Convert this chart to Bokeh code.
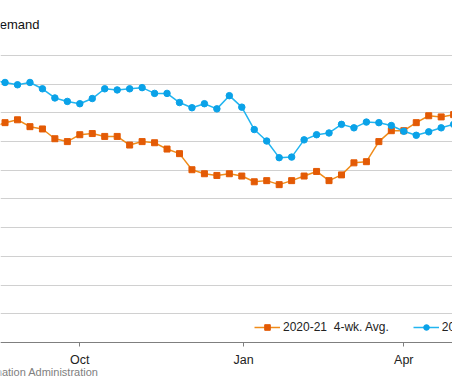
from datetime import datetime
import pandas as pd
from bokeh.plotting import figure
from bokeh.models import (Range1d, FixedTicker, DatetimeTickFormatter, Label,
                          Legend, LegendItem, ColumnDataSource)
from bokeh.embed import file_html
from bokeh.resources import INLINE

# weekly (week ending Friday), shown on a common Aug–May season axis
week_ending = pd.date_range("2021-08-13", "2022-05-06", freq="7D")

avg_2020_21 = [8.75, 8.83, 8.88, 8.76, 8.72, 8.55, 8.50, 8.62, 8.64, 8.59,
               8.59, 8.44, 8.50, 8.48, 8.37, 8.29, 8.01, 7.94, 7.91, 7.94,
               7.90, 7.80, 7.82, 7.75, 7.82, 7.90, 7.98, 7.82, 7.92, 8.13,
               8.15, 8.50, 8.69, 8.69, 8.83, 8.95, 8.93, 8.97, 8.93]
avg_2021_22 = [9.57, 9.53, 9.49, 9.53, 9.42, 9.26, 9.20, 9.16, 9.25, 9.42,
               9.40, 9.42, 9.44, 9.34, 9.34, 9.18, 9.09, 9.16, 9.07, 9.30,
               9.10, 8.71, 8.51, 8.22, 8.23, 8.53, 8.62, 8.65, 8.80, 8.74,
               8.84, 8.83, 8.78, 8.68, 8.61, 8.67, 8.74, 8.80, 8.82]

series_labels = ["2020-21\u00a0 4-wk. Avg.", "2021-22\u00a0 4-wk. Avg."]
month_ticks = ["2021-07-01", "2021-10-01", "2022-01-01", "2022-04-01", "2022-07-01"]
y_ticks = [5.0, 5.5, 6.0, 6.5, 7.0, 7.5, 8.0, 8.5, 9.0, 9.5, 10.0]
y_floor = 5.0
title_text = "U.S. Gasoline Demand"
source_text = "Source: U.S. Energy Information Administration"

src = ColumnDataSource(dict(date=week_ending, a=avg_2020_21, b=avg_2021_22))

# frame fills the canvas; the x axis is pinned at 5.0 (342px), 10.0 at 55px
p = figure(width=452, height=376, output_backend="svg", toolbar_location=None,
           x_axis_type="datetime",
           x_range=Range1d(datetime(2021, 8, 17, 10, 48), datetime(2022, 4, 28, 8, 38)),
           y_range=Range1d(4.4077, 10.958),
           min_border_left=0, min_border_right=0, min_border_top=0,
           min_border_bottom=0)
p.outline_line_color = None
p.background_fill_color = "white"
p.border_fill_color = "white"

p.yaxis.visible = False
p.xgrid.visible = False
p.ygrid.ticker = FixedTicker(ticks=y_ticks)
p.ygrid.grid_line_color = "#d0d0d0"
p.ygrid.grid_line_width = 1

xa = p.xaxis[0]
xa.fixed_location = y_floor
xa.ticker = FixedTicker(ticks=[pd.Timestamp(t).value // 10**6 for t in month_ticks])
xa.formatter = DatetimeTickFormatter(days="%b", months="%b", years="%b")
xa.axis_line_color = "#7f7f7f"
xa.major_tick_line_color = "#7f7f7f"
xa.major_tick_in = 0
xa.major_tick_out = 4
xa.minor_tick_line_color = None
xa.major_label_text_font = "Liberation Sans"
xa.major_label_text_font_size = "12.5px"
xa.major_label_text_color = "#222222"
xa.major_label_standoff = 6

orange_line, orange_mark = "#f08c1a", "#e35a05"
blue_line, blue_mark = "#22b5f0", "#0aa2e8"

l1 = p.line("date", "a", source=src, line_color=orange_line, line_width=1.5)
s1 = p.scatter("date", "a", source=src, marker="square", size=6,
               fill_color=orange_mark, line_color=orange_mark)
l2 = p.line("date", "b", source=src, line_color=blue_line, line_width=1.5)
s2 = p.scatter("date", "b", source=src, marker="circle", size=6.5,
               fill_color=blue_mark, line_color=blue_mark)

legend = Legend(items=[LegendItem(label=series_labels[0], renderers=[l1, s1]),
                       LegendItem(label=series_labels[1], renderers=[l2, s2])],
                orientation="horizontal", location=(254, 42),
                glyph_width=26, glyph_height=14, label_height=14,
                label_standoff=3, spacing=24, padding=0, margin=0,
                label_text_font="Liberation Sans", label_text_font_size="12px",
                label_text_color="#222222",
                background_fill_alpha=0, border_line_color=None)
p.add_layout(legend, "center")

p.add_layout(Label(x=39, y=352, x_units="screen", y_units="screen",
                   text=title_text, text_align="right", text_baseline="alphabetic",
                   text_font="Liberation Sans", text_font_size="13px",
                   text_color="#111111"))
p.add_layout(Label(x=98, y=5, x_units="screen", y_units="screen",
                   text=source_text, text_align="right", text_baseline="middle",
                   text_font="Liberation Sans", text_font_size="11px",
                   text_color="#808080"))

open("out.html", "w").write(file_html(p, INLINE))
